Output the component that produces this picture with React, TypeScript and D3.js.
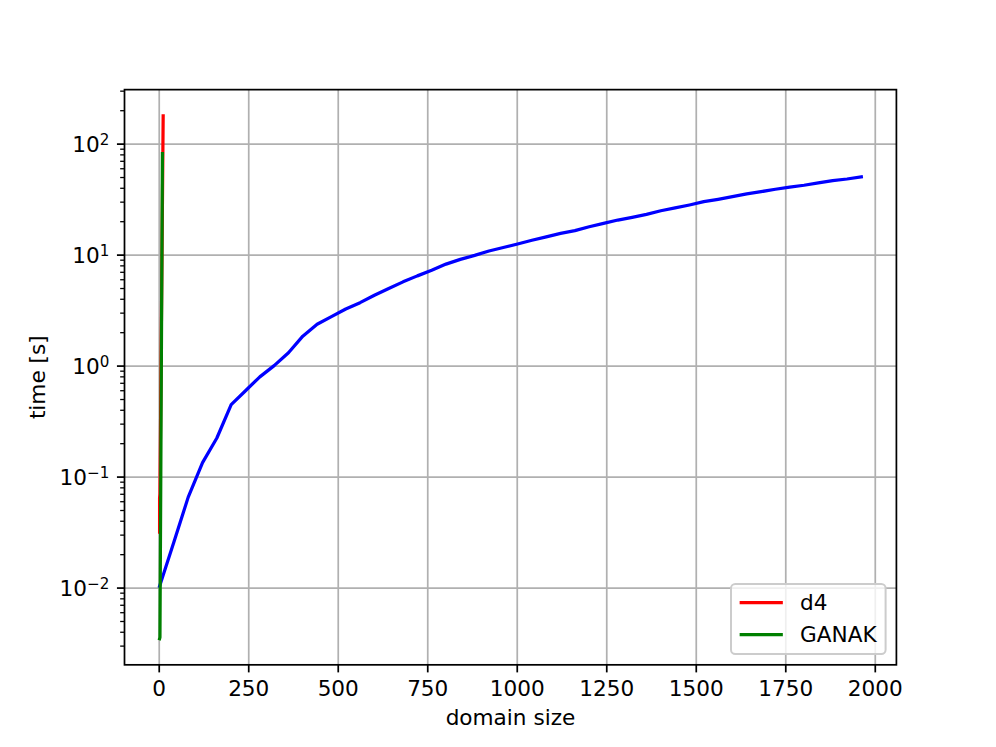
import React from "react";
import * as d3 from "d3";

// ---- data ----
const blueX = [1, 41, 81, 121, 161, 201, 241, 281, 321, 361, 401, 441, 481, 521, 561, 601, 641, 681, 721, 761, 801, 841, 881, 921, 961, 1001, 1041, 1081, 1121, 1161, 1201, 1241, 1281, 1321, 1361, 1401, 1441, 1481, 1521, 1561, 1601, 1641, 1681, 1721, 1761, 1801, 1841, 1881, 1921, 1961];
const blueY = [0.0104, 0.026, 0.066, 0.135, 0.225, 0.45, 0.6, 0.8, 1.01, 1.32, 1.86, 2.38, 2.79, 3.27, 3.73, 4.35, 5.0, 5.74, 6.5, 7.3, 8.3, 9.15, 9.94, 10.9, 11.7, 12.6, 13.6, 14.6, 15.7, 16.6, 18.0, 19.3, 20.7, 21.9, 23.3, 25.1, 26.6, 28.3, 30.3, 31.8, 33.6, 35.6, 37.3, 39.2, 40.9, 42.6, 44.7, 46.9, 48.5, 50.6];

const d4X = [1, 1, 2, 5, 8, 11];
const d4Y = [0.032, 0.065, 0.07, 0.95, 13, 180];

const ganakX = [1, 2, 4, 6, 9];
const ganakY = [0.0035, 0.0036, 0.06, 1.2, 82];

const xTicks = [0, 250, 500, 750, 1000, 1250, 1500, 1750, 2000];
const yTickExps = [-2, -1, 0, 1, 2];

const legendLabels = ["d4", "GANAK"];
const legendColors = ["#ff0000", "#008000"];

// ---- layout ----
const W = 996;
const H = 747;
const L = 0.125 * W;
const R = 0.9 * W;
const T = 0.12 * H;
const B = 0.89 * H;
const PT = 100 / 72 * 1.556; // px per point
const FS = 21.6;
const FONT = "DejaVu Sans";

export default function App() {
  const allX = [...blueX, ...d4X, ...ganakX];
  const allY = [...blueY, ...d4Y, ...ganakY];
  const xmin = d3.min(allX)!;
  const xmax = d3.max(allX)!;
  const xr = xmax - xmin;
  const lmin = Math.log10(d3.min(allY)!);
  const lmax = Math.log10(d3.max(allY)!);
  const lr = lmax - lmin;

  const x = d3.scaleLinear().domain([xmin - 0.05 * xr, xmax + 0.05 * xr]).range([L, R]);
  const y = d3
    .scaleLog()
    .domain([Math.pow(10, lmin - 0.05 * lr), Math.pow(10, lmax + 0.05 * lr)])
    .range([B, T]);

  const line = d3
    .line<[number, number]>()
    .x((d) => x(d[0]))
    .y((d) => y(d[1]));

  const zip = (a: number[], b: number[]) => a.map((v, i) => [v, b[i]] as [number, number]);

  const [ylo, yhi] = y.domain();
  const minorTicks: number[] = [];
  for (let e = Math.floor(Math.log10(ylo)); e <= Math.ceil(Math.log10(yhi)); e++) {
    for (let m = 2; m <= 9; m++) {
      const v = m * Math.pow(10, e);
      if (v >= ylo && v <= yhi) minorTicks.push(v);
    }
  }

  const majorLen = 3.5 * PT;
  const minorLen = 2 * PT;
  const pad = 3.5 * PT;
  const lw = 1.5 * PT;

  // legend geometry
  const legR = R - 0.5 * FS;
  const legB = B - 0.5 * FS;
  const legW = 154.6;
  const legH = 70;
  const legL = legR - legW;
  const legT = legB - legH;

  return (
    <svg
      width={W}
      height={H}
      style={{ position: "absolute", left: 0, top: 0, background: "#fff" }}
      fontFamily={FONT}
    >
      <rect x={0} y={0} width={W} height={H} fill="#fff" />
      <defs>
        <clipPath id="plotclip">
          <rect x={L} y={T} width={R - L} height={B - T} />
        </clipPath>
      </defs>
      {/* grid */}
      <g stroke="#b0b0b0" strokeWidth={0.8 * PT}>
        {xTicks.map((t) => (
          <line key={"gx" + t} x1={x(t)} x2={x(t)} y1={T} y2={B} />
        ))}
        {yTickExps.map((e) => (
          <line key={"gy" + e} x1={L} x2={R} y1={y(Math.pow(10, e))} y2={y(Math.pow(10, e))} />
        ))}
      </g>
      {/* series */}
      <g clipPath="url(#plotclip)" fill="none" strokeWidth={lw} strokeLinejoin="round" strokeLinecap="square">
        <path d={line(zip(blueX, blueY))!} stroke="#0000ff" />
        <path d={line(zip(d4X, d4Y))!} stroke="#ff0000" />
        <path d={line(zip(ganakX, ganakY))!} stroke="#008000" />
      </g>
      {/* spines */}
      <rect x={L} y={T} width={R - L} height={B - T} fill="none" stroke="#000" strokeWidth={0.8 * PT} />
      {/* x ticks */}
      <g>
        {xTicks.map((t) => (
          <g key={"xt" + t}>
            <line x1={x(t)} x2={x(t)} y1={B} y2={B + majorLen} stroke="#000" strokeWidth={0.8 * PT} />
            <text x={x(t)} y={B + majorLen + pad + 16.3} textAnchor="middle" fontSize={FS} fill="#000">
              {t}
            </text>
          </g>
        ))}
      </g>
      {/* y ticks */}
      <g>
        {minorTicks.map((v, i) => (
          <line key={"ym" + i} x1={L} x2={L - minorLen} y1={y(v)} y2={y(v)} stroke="#000" strokeWidth={0.6 * PT} />
        ))}
        {yTickExps.map((e) => {
          const yy = y(Math.pow(10, e));
          return (
            <g key={"yt" + e}>
              <line x1={L} x2={L - majorLen} y1={yy} y2={yy} stroke="#000" strokeWidth={0.8 * PT} />
              <text x={L - majorLen - pad} y={yy + 7.7} textAnchor="end" fontSize={FS} fill="#000">
                10
                <tspan fontSize={FS * 0.7} dy={-6.5}>
                  {e < 0 ? "\u2212" + Math.abs(e) : String(e)}
                </tspan>
              </text>
            </g>
          );
        })}
      </g>
      {/* axis labels */}
      <text x={(L + R) / 2} y={725} textAnchor="middle" fontSize={FS} fill="#000">
        domain size
      </text>
      <text
        transform={`translate(45,${(T + B) / 2}) rotate(-90)`}
        textAnchor="middle"
        fontSize={FS}
        fill="#000"
      >
        time [s]
      </text>
      {/* legend */}
      <rect
        x={legL}
        y={legT}
        width={legW}
        height={legH}
        rx={4.3}
        ry={4.3}
        fill="#fff"
        fillOpacity={0.8}
        stroke="#cccccc"
        strokeWidth={2}
      />
      {legendLabels.map((lab, i) => {
        const ly = legT + 18.5 + i * 32;
        return (
          <g key={lab}>
            <line
              x1={legL + 0.4 * FS}
              x2={legL + 0.4 * FS + 2 * FS}
              y1={ly}
              y2={ly}
              stroke={legendColors[i]}
              strokeWidth={lw}
            />
            <text x={legL + 0.4 * FS + 2.8 * FS} y={ly + 7.6} fontSize={FS} fill="#000">
              {lab}
            </text>
          </g>
        );
      })}
    </svg>
  );
}
